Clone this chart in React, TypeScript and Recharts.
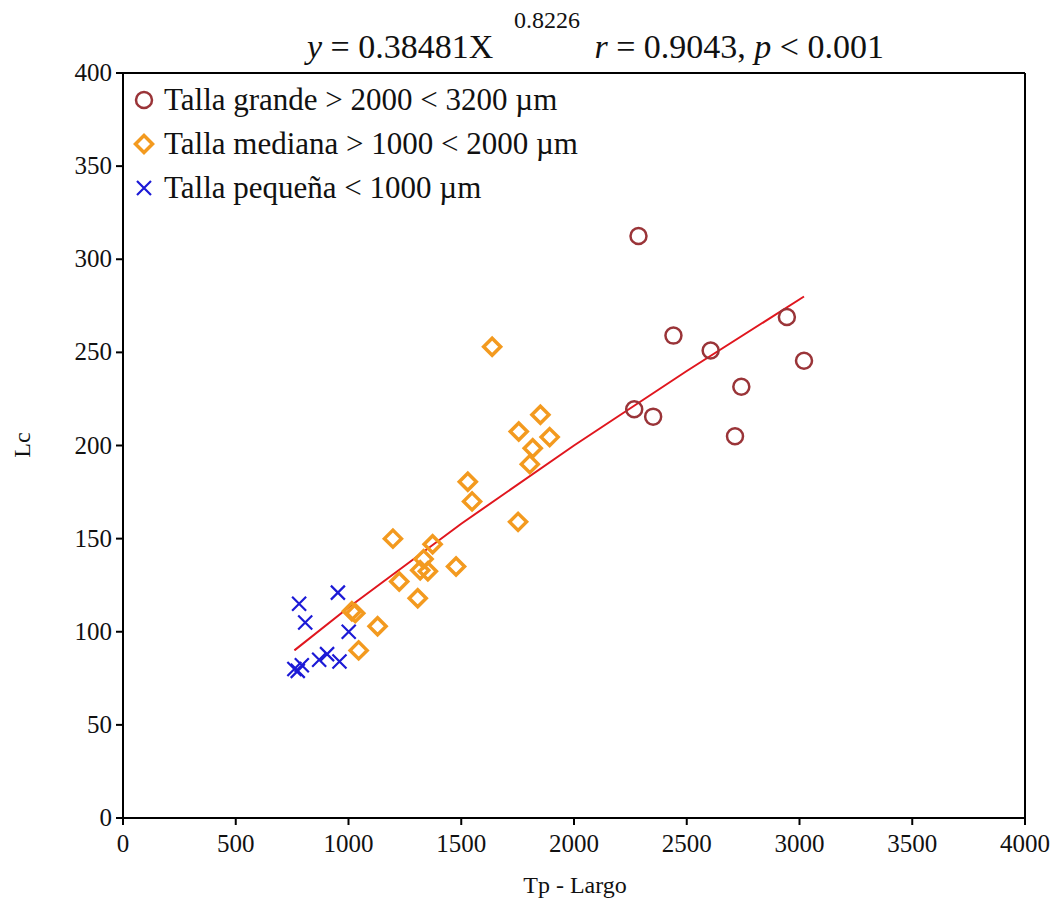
import * as React from "react";
import {
  ScatterChart,
  Scatter,
  XAxis,
  YAxis,
  ReferenceLine,
} from "recharts";

// Tp - Largo (µm) vs Lc
const grandeX = [2286, 2441, 2606, 2944, 3020, 2267, 2351, 2742, 2714];
const grandeY = [312.5, 259, 251, 269, 245.5, 219.5, 215.5, 231.5, 205];

const medianaX = [
  1637, 1851, 1755, 1892, 1817, 1804, 1529, 1548, 1752, 1197, 1373, 1333,
  1318, 1352, 1477, 1225, 1307, 1015, 1030, 1129, 1045,
];
const medianaY = [
  253, 216.5, 207.5, 204.5, 198.5, 190, 180.5, 170, 159, 150, 147, 139, 133,
  132.5, 135, 127, 118, 111, 110, 103, 90,
];

const pequenaX = [953, 781, 808, 1001, 905, 870, 960, 793, 760, 775];
const pequenaY = [121, 115, 105, 100, 88, 85, 84, 82, 80, 79];

// fitted curve y = 0.38481 X^0.8226
const fitX = [760, 1000, 1500, 2000, 2500, 3020];
const fitY = [90, 113, 158, 200, 240, 280];

const xTicks = [0, 500, 1000, 1500, 2000, 2500, 3000, 3500, 4000];
const yTicks = [0, 50, 100, 150, 200, 250, 300, 350, 400];

const COLORS = {
  grande: "#9a3438",
  mediana: "#f39a1f",
  pequena: "#1c1ad6",
  fit: "#e0161e",
};

const zip = (xs: number[], ys: number[]) => xs.map((x, i) => ({ x, y: ys[i] }));

const serif = "Liberation Serif, Tinos, Times New Roman, DejaVu Serif, serif";

function Circle(props: any) {
  const { cx, cy } = props;
  return <circle cx={cx} cy={cy} r={8} fill="none" stroke={COLORS.grande} strokeWidth={2.5} />;
}

function Diamond(props: any) {
  const { cx, cy } = props;
  const s = 8.5;
  return (
    <path
      d={`M${cx},${cy - s}L${cx + s},${cy}L${cx},${cy + s}L${cx - s},${cy}Z`}
      fill="none"
      stroke={COLORS.mediana}
      strokeWidth={3.5}
    />
  );
}

function Cross(props: any) {
  const { cx, cy } = props;
  const s = 7;
  return (
    <path
      d={`M${cx - s},${cy - s}L${cx + s},${cy + s}M${cx - s},${cy + s}L${cx + s},${cy - s}`}
      stroke={COLORS.pequena}
      strokeWidth={2.2}
    />
  );
}

const Nothing = () => <g />;

function XTick(props: any) {
  const { x, y, payload } = props;
  return (
    <text x={x} y={y + 25} textAnchor="middle" fontFamily={serif} fontSize={25} fill="#111">
      {payload.value}
    </text>
  );
}

function YTick(props: any) {
  const { x, y, payload } = props;
  return (
    <text x={x - 2} y={y + 8} textAnchor="end" fontFamily={serif} fontSize={25} fill="#111">
      {payload.value}
    </text>
  );
}

const legendItems = [
  { label: "Talla grande > 2000 < 3200 µm", icon: Circle },
  { label: "Talla mediana > 1000 < 2000 µm", icon: Diamond },
  { label: "Talla pequeña < 1000 µm", icon: Cross },
];

export default function App() {
  return (
    <div
      style={{
        position: "absolute",
        left: 0,
        top: 0,
        width: 1052,
        height: 907,
        background: "#fff",
        fontFamily: serif,
      }}
    >
      <ScatterChart width={1052} height={907} margin={{ top: 73, right: 27, bottom: 39, left: 63 }}>
        <XAxis
          type="number"
          dataKey="x"
          domain={[0, 4000]}
          ticks={xTicks}
          interval={0}
          height={50}
          stroke="#000"
          strokeWidth={2}
          tickSize={7}
          tick={<XTick />}
        />
        <YAxis
          type="number"
          dataKey="y"
          domain={[0, 400]}
          ticks={yTicks}
          interval={0}
          width={60}
          stroke="#000"
          strokeWidth={2}
          tickSize={7}
          tick={<YTick />}
        />
        <ReferenceLine y={400} stroke="#000" strokeWidth={2} ifOverflow="visible" />
        <ReferenceLine x={4000} stroke="#000" strokeWidth={2} ifOverflow="visible" />
        <Scatter
          data={zip(fitX, fitY)}
          line={{ stroke: COLORS.fit, strokeWidth: 2 }}
          lineType="joint"
          shape={Nothing}
          isAnimationActive={false}
        />
        <Scatter data={zip(grandeX, grandeY)} shape={Circle} isAnimationActive={false} />
        <Scatter data={zip(medianaX, medianaY)} shape={Diamond} isAnimationActive={false} />
        <Scatter data={zip(pequenaX, pequenaY)} shape={Cross} isAnimationActive={false} />
      </ScatterChart>

      {/* title */}
      <svg width={1052} height={72} style={{ position: "absolute", left: 0, top: 0 }}>
        <text x={307} y={58} fontFamily={serif} fontSize={34} fill="#111">
          <tspan fontStyle="italic">y</tspan> = 0.38481X
        </text>
        <text x={514} y={28} fontFamily={serif} fontSize={24} fill="#111">
          0.8226
        </text>
        <text x={884} y={58} textAnchor="end" fontFamily={serif} fontSize={34} fill="#111">
          <tspan fontStyle="italic">r</tspan> = 0.9043, <tspan fontStyle="italic">p</tspan> {"<"} 0.001
        </text>
      </svg>

      {/* legend */}
      <svg width={80} height={140} style={{ position: "absolute", left: 104, top: 80 }}>
        {legendItems.map((it, i) => {
          const Icon = it.icon;
          return <Icon key={i} cx={40} cy={20 + i * 44} />;
        })}
      </svg>
      {legendItems.map((it, i) => (
        <div
          key={i}
          style={{
            position: "absolute",
            left: 164,
            top: 81 + i * 44,
            fontSize: 31,
            lineHeight: "37px",
            color: "#111",
            whiteSpace: "nowrap",
          }}
        >
          {it.label}
        </div>
      ))}

      {/* axis titles */}
      <div
        style={{
          position: "absolute",
          left: 575,
          top: 872,
          transform: "translateX(-50%)",
          fontSize: 24,
          color: "#111",
          whiteSpace: "nowrap",
        }}
      >
        Tp - Largo
      </div>
      <div
        style={{
          position: "absolute",
          left: 22,
          top: 445,
          transform: "translate(-50%, -50%) rotate(-90deg)",
          fontSize: 24,
          color: "#111",
          whiteSpace: "nowrap",
        }}
      >
        Lc
      </div>
    </div>
  );
}
